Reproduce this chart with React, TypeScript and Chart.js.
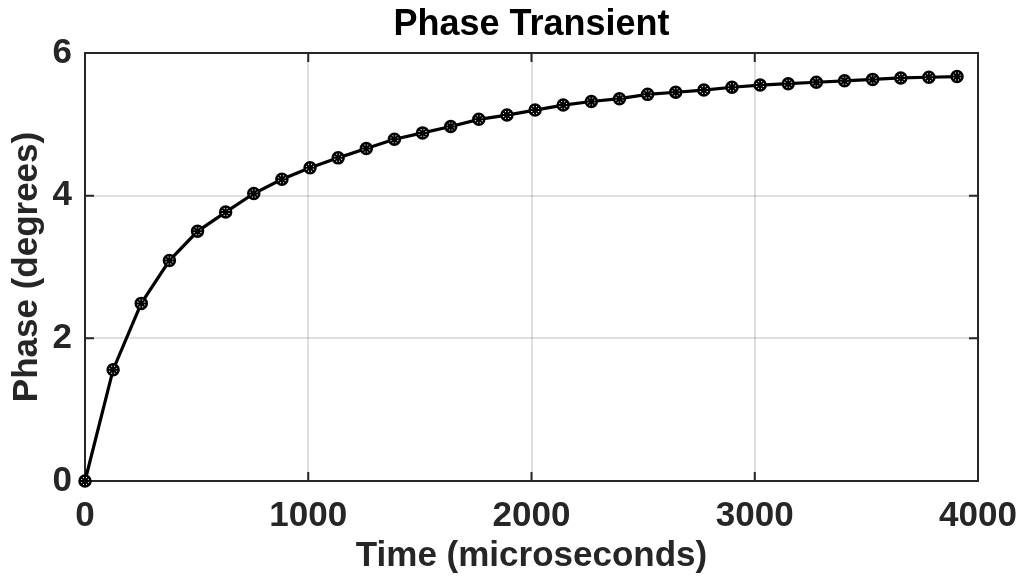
import React, { useEffect, useRef } from 'react';
import { Chart, registerables } from 'chart.js';

Chart.register(...registerables);

const titleText = 'Phase Transient';
const xLabel = 'Time (microseconds)';
const yLabel = 'Phase (degrees)';

const timeUs = [
  0, 126, 252, 378, 504, 630, 756, 882, 1008, 1134, 1260, 1386, 1512, 1638, 1764, 1890,
  2016, 2142, 2268, 2394, 2520, 2646, 2772, 2898, 3024, 3150, 3276, 3402, 3528, 3654, 3780, 3906,
];
const phaseDeg = [
  0.0, 1.56, 2.49, 3.09, 3.5, 3.77, 4.03, 4.23, 4.39, 4.53, 4.66, 4.79, 4.88, 4.97, 5.07, 5.13,
  5.2, 5.27, 5.32, 5.36, 5.42, 5.45, 5.48, 5.52, 5.55, 5.57, 5.59, 5.61, 5.63, 5.65, 5.66, 5.67,
];
const xTicks = [0, 1000, 2000, 3000, 4000];
const yTicks = [0, 2, 4, 6];

const FONT = "'Liberation Sans', Arial, Helvetica, sans-serif";
const AXIS = '#262626';

const boxPlugin = {
  id: 'matlabBox',
  beforeDatasetsDraw(chart: any) {
    const { ctx, chartArea: a, scales } = chart;
    ctx.save();
    ctx.strokeStyle = AXIS;
    ctx.lineWidth = 2;
    ctx.beginPath();
    ctx.moveTo(a.left, a.top);
    ctx.lineTo(a.right, a.top);
    ctx.lineTo(a.right, a.bottom);
    const tl = 9;
    for (const v of xTicks) {
      const px = scales.x.getPixelForValue(v);
      ctx.moveTo(px, a.bottom);
      ctx.lineTo(px, a.bottom - tl);
      ctx.moveTo(px, a.top);
      ctx.lineTo(px, a.top + tl);
    }
    for (const v of yTicks) {
      const py = scales.y.getPixelForValue(v);
      ctx.moveTo(a.left, py);
      ctx.lineTo(a.left + tl, py);
      ctx.moveTo(a.right, py);
      ctx.lineTo(a.right - tl, py);
    }
    ctx.stroke();
    ctx.restore();
  },
};

export default function App() {
  const ref = useRef<HTMLCanvasElement | null>(null);

  useEffect(() => {
    if (!ref.current) return;
    const pts = timeUs.map((t, i) => ({ x: t, y: phaseDeg[i] }));
    const chart = new Chart(ref.current, {
      type: 'line',
      data: {
        datasets: [
          {
            data: pts,
            order: 1,
            borderColor: '#000',
            borderWidth: 3.2,
            pointStyle: 'circle',
            pointRadius: 5.5,
            pointBorderWidth: 2.5,
            pointBackgroundColor: '#fff',
            pointBorderColor: '#000',
            clip: false as any,
            tension: 0,
          },
          {
            data: pts,
            order: 0,
            showLine: false,
            pointStyle: 'star',
            pointRadius: 5,
            pointBorderWidth: 2,
            pointBorderColor: '#000',
            pointBackgroundColor: '#000',
            borderColor: '#000',
            clip: false as any,
          },
        ],
      },
      options: {
        responsive: false,
        animation: false,
        layout: { padding: { left: 0, right: 45, top: 0, bottom: 0 } },
        plugins: {
          legend: { display: false },
          tooltip: { enabled: false },
          title: {
            display: true,
            text: titleText,
            fullSize: false,
            color: '#000',
            font: { family: FONT, size: 36, weight: 'bold' },
            padding: { top: 3, bottom: 6.8 },
          },
        },
        scales: {
          x: {
            type: 'linear',
            min: 0,
            max: 4000,
            afterBuildTicks: (s: any) => {
              s.ticks = xTicks.map((v) => ({ value: v }));
            },
            afterFit: (s: any) => {
              s.height = 96;
              s.paddingLeft = 0;
              s.paddingRight = 0;
            },
            grid: { color: 'rgba(38,38,38,0.15)', lineWidth: 2, drawTicks: false },
            border: { display: true, color: AXIS, width: 2 },
            ticks: {
              color: AXIS,
              padding: 14,
              maxRotation: 0,
              callback: (v: any) => String(v),
              font: { family: FONT, size: 35, weight: 'bold' },
            },
            title: {
              display: true,
              text: xLabel,
              color: AXIS,
              padding: { top: 0, bottom: 0 },
              font: { family: FONT, size: 35, weight: 'bold' },
            },
          },
          y: {
            type: 'linear',
            min: 0,
            max: 6,
            afterBuildTicks: (s: any) => {
              s.ticks = yTicks.map((v) => ({ value: v }));
            },
            afterFit: (s: any) => {
              s.width = 85;
              s.paddingTop = 0;
              s.paddingBottom = 0;
            },
            grid: { color: 'rgba(38,38,38,0.15)', lineWidth: 2, drawTicks: false },
            border: { display: true, color: AXIS, width: 2 },
            ticks: {
              color: AXIS,
              padding: 13,
              callback: (v: any) => String(v),
              font: { family: FONT, size: 35, weight: 'bold' },
            },
            title: {
              display: true,
              text: yLabel,
              color: AXIS,
              padding: { top: 6, bottom: 0 },
              font: { family: FONT, size: 35, weight: 'bold' },
            },
          },
        },
      },
      plugins: [boxPlugin],
    });
    return () => chart.destroy();
  }, []);

  return (
    <div style={{ position: 'absolute', left: 0, top: 0, width: 1023, height: 577, background: '#fff' }}>
      <canvas ref={ref} width={1023} height={577} />
    </div>
  );
}
